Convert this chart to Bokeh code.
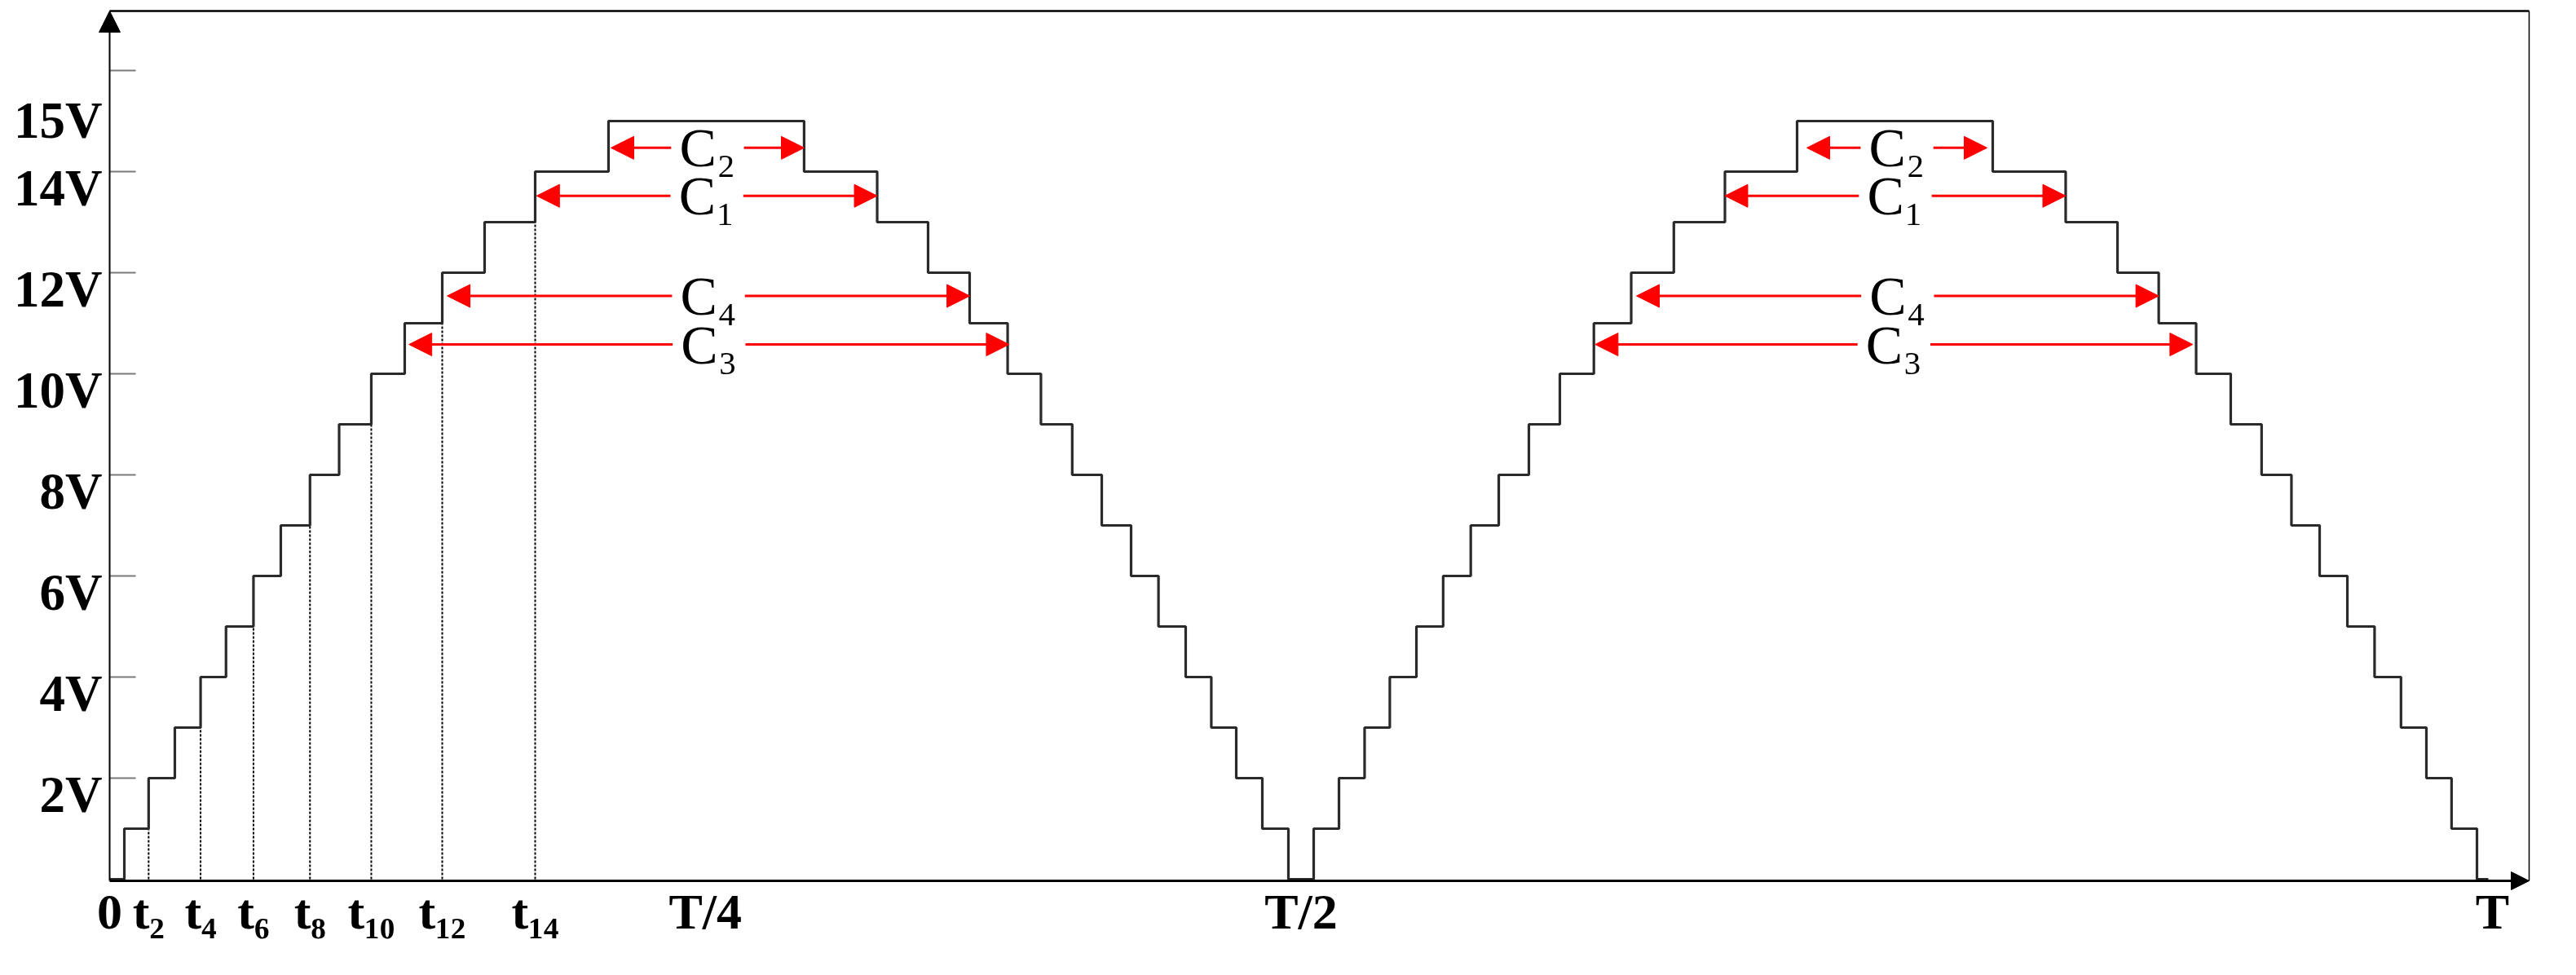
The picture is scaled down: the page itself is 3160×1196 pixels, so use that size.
from bokeh.plotting import figure
from bokeh.models import Arrow, NormalHead, Label, FixedTicker, Range1d
from bokeh.embed import file_html
from bokeh.resources import INLINE

# Time axis in electrical degrees (T = 360), voltage in V
step_edges = [0.0, 2.22, 5.89, 9.85, 13.74, 17.58, 21.73, 25.86, 30.27, 34.67, 39.53, 44.58, 50.25,
              56.65, 64.29, 75.37,
              104.92, 115.96, 123.65, 129.93, 135.67, 140.70, 145.43, 149.89, 154.32, 158.46, 162.57,
              166.44, 170.21, 174.15, 178.09,
              181.91, 185.73, 189.60, 193.41, 197.43, 201.47, 205.64, 209.87, 214.42, 219.10, 224.24,
              229.88, 236.32, 244.04, 254.94,
              284.50, 295.52, 303.35, 309.58, 315.23, 320.46, 325.12, 329.63, 333.89, 338.08, 342.19,
              346.18, 350.02, 353.82, 357.66, 359.38]
step_levels = [0, 1, 2, 3, 4, 5, 6, 7, 8, 9, 10, 11, 12, 13, 14, 15,
               14, 13, 12, 11, 10, 9, 8, 7, 6, 5, 4, 3, 2, 1, 0,
               1, 2, 3, 4, 5, 6, 7, 8, 9, 10, 11, 12, 13, 14, 15,
               14, 13, 12, 11, 10, 9, 8, 7, 6, 5, 4, 3, 2, 1, 0, 0]

x_tick_values = [0, 5.89, 13.74, 21.73, 30.27, 39.53, 50.25, 64.29, 90, 180, 360]
x_tick_labels = ["0", "t\u2082", "t\u2084", "t\u2086", "t\u2088", "t\u2081\u2080", "t\u2081\u2082",
                 "t\u2081\u2084", "T/4", "T/2", "T"]

marker_times = [5.89, 13.74, 21.73, 30.27, 39.53, 50.25, 64.29]
marker_tops = [1, 3, 5, 7, 9, 11, 13]

y_tick_marks = [2, 4, 6, 8, 10, 12, 14, 16]
y_label_values = [2, 4, 6, 8, 10, 12, 14, 15]
y_label_texts = ["2V", "4V", "6V", "8V", "10V", "12V", "14V", "15V"]

c_labels = ["C\u2082", "C\u2081", "C\u2084", "C\u2083", "C\u2082", "C\u2081", "C\u2084", "C\u2083"]
c_levels = [14.47, 13.52, 11.54, 10.58, 14.47, 13.52, 11.54, 10.58]
c_starts = [75.74, 64.51, 51.00, 45.22, 256.42, 244.04, 230.68, 224.44]
c_ends = [104.93, 115.96, 129.95, 135.90, 283.64, 295.52, 309.58, 314.72]

# ---- layout / style constants ----
DEG_PER_PX = 0.123161
V_PER_PX = 1 / 62.0
X_RIGHT = 365.54          # right border / x arrow tip
Y_AXIS = -0.032           # level of the time axis line
Y_TOP = 17.177            # top border / y arrow tip
X_MIN = -14 * DEG_PER_PX
X_MAX = X_RIGHT + 2 * DEG_PER_PX
Y_MIN = Y_AXIS - 12 * V_PER_PX
Y_MAX = Y_TOP + 2 * V_PER_PX
TICK_LEN = 32 * DEG_PER_PX
LABEL_SHIFT = 0.33
GAP = 5.5
SERIF = "Liberation Serif"

p = figure(width=3132, height=1176, output_backend="svg", toolbar_location=None,
           x_range=Range1d(X_MIN, X_MAX), y_range=Range1d(Y_MIN, Y_MAX),
           min_border_left=120, min_border_right=28, min_border_top=11, min_border_bottom=84)
p.background_fill_color = "white"
p.border_fill_color = "white"
p.outline_line_color = None
p.xgrid.visible = False
p.ygrid.visible = False

# x axis (labels only; the line is drawn as an arrow)
p.xaxis.ticker = FixedTicker(ticks=x_tick_values)
p.xaxis.major_label_overrides = dict(zip(x_tick_values, x_tick_labels))
p.xaxis.major_tick_in = 0
p.xaxis.major_tick_out = 0
p.xaxis.minor_tick_line_color = None
p.xaxis.axis_line_color = None
p.xaxis.major_label_standoff = -9
p.xaxis.major_label_text_font = SERIF
p.xaxis.major_label_text_font_style = "bold"
p.xaxis.major_label_text_font_size = "62px"
p.xaxis.major_label_text_color = "black"

# y axis (labels only)
label_pos = [round(v - LABEL_SHIFT, 3) if v % 2 == 0 else v for v in y_label_values]
p.yaxis.ticker = FixedTicker(ticks=label_pos)
p.yaxis.major_label_overrides = dict(zip(label_pos, y_label_texts))
p.yaxis.major_tick_in = 0
p.yaxis.major_tick_out = 0
p.yaxis.minor_tick_line_color = None
p.yaxis.axis_line_color = None
p.yaxis.major_label_standoff = -5
p.yaxis.major_label_text_font = SERIF
p.yaxis.major_label_text_font_style = "bold"
p.yaxis.major_label_text_font_size = "63px"
p.yaxis.major_label_text_color = "black"

# inward gray tick marks on the voltage axis
p.segment(x0=[0] * len(y_tick_marks), y0=y_tick_marks, x1=[TICK_LEN] * len(y_tick_marks),
          y1=y_tick_marks, line_color="#7a7a7a", line_width=2)

# frame: top and right borders
p.segment(x0=[0, X_RIGHT], y0=[Y_TOP, Y_AXIS], x1=[X_RIGHT, X_RIGHT], y1=[Y_TOP, Y_TOP],
          line_color="black", line_width=[2.5, 1.5])

# dashed time markers
p.segment(x0=marker_times, y0=[0] * len(marker_times), x1=marker_times, y1=marker_tops,
          line_color="black", line_width=2, line_dash="3 2")

# staircase waveform
p.step(x=step_edges, y=step_levels, mode="after", line_color="#2a2a2a", line_width=3.2)

# axis lines with arrow heads
p.add_layout(Arrow(end=NormalHead(size=26, fill_color="black", line_color="black", line_width=1),
                   x_start=0, y_start=Y_AXIS, x_end=0, y_end=Y_TOP,
                   line_color="black", line_width=2))
p.add_layout(Arrow(end=NormalHead(size=22, fill_color="black", line_color="black", line_width=1),
                   x_start=0, y_start=Y_AXIS, x_end=X_RIGHT, y_end=Y_AXIS,
                   line_color="black", line_width=3))

# red dimension arrows with labels
for lab, yv, xs, xe in zip(c_labels, c_levels, c_starts, c_ends):
    mid = (xs + xe) / 2
    for tip, inner in ((xs, mid - GAP), (xe, mid + GAP)):
        p.add_layout(Arrow(end=NormalHead(size=28, fill_color="#ff0000", line_color="#ff0000"),
                           x_start=inner, y_start=yv, x_end=tip, y_end=yv,
                           line_color="#ff0000", line_width=3))
    p.add_layout(Label(x=mid, y=yv, text=lab, text_align="center", text_baseline="middle",
                       text_font=SERIF, text_font_size="68px", text_color="black"))

open("out.html", "w").write(file_html(p, INLINE))
